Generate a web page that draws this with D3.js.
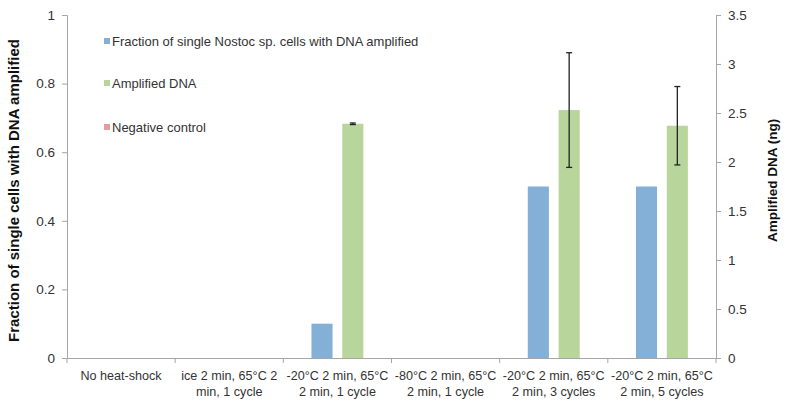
<!DOCTYPE html>
<html><head><meta charset="utf-8">
<script src="https://cdn.jsdelivr.net/npm/d3@7"></script>
<style>body{margin:0;background:#fff}text{font-family:"Liberation Sans",Arial,sans-serif}</style>
</head><body>
<svg id="c" width="795" height="402"></svg>
<script>
const categories = [
  ["No heat-shock"],
  ["ice 2 min, 65°C 2", "min, 1 cycle"],
  ["-20°C 2 min, 65°C", "2 min, 1 cycle"],
  ["-80°C 2 min, 65°C", "2 min, 1 cycle"],
  ["-20°C 2 min, 65°C", "2 min, 3 cycles"],
  ["-20°C 2 min, 65°C", "2 min, 5 cycles"]
];
const fraction = [0, 0, 0.1, 0, 0.5, 0.5];
const amplified = [0, 0, 2.39, 0, 2.53, 2.37];
const amplifiedErr = [0, 0, 0.008, 0, 0.585, 0.4];
const negative = [0, 0, 0, 0, 0, 0];
const leftTicks = [0, 0.2, 0.4, 0.6, 0.8, 1];
const rightTicks = [0, 0.5, 1, 1.5, 2, 2.5, 3, 3.5];
const seriesNames = ["Fraction of single Nostoc sp. cells with DNA amplified", "Amplified DNA", "Negative control"];
const colors = ["#84afd7", "#b8d69b", "#e59c9c"];

const svg = d3.select("#c");
const m = {l: 67, r: 716, t: 15, b: 358};
const x = d3.scaleBand().domain(d3.range(categories.length)).range([m.l, m.r]).paddingInner(0).paddingOuter(0);
const yL = d3.scaleLinear().domain([0, 1]).range([m.b, m.t]);
const yR = d3.scaleLinear().domain([0, 3.5]).range([m.b, m.t]);
const bw = x.bandwidth();
const barW = bw * 0.195;

// bars: fraction (blue)
svg.append("g").selectAll("rect").data(fraction).join("rect")
  .attr("x", (d,i) => x(i) + bw*0.26)
  .attr("width", barW)
  .attr("y", d => yL(d)).attr("height", d => yL(0) - yL(d))
  .attr("fill", colors[0]);
// negative control (red) on primary axis (all zero)
svg.append("g").selectAll("rect").data(negative).join("rect")
  .attr("x", (d,i) => x(i) + bw*0.26 + barW)
  .attr("width", barW)
  .attr("y", d => yL(d)).attr("height", d => yL(0) - yL(d))
  .attr("fill", colors[2]);
// amplified DNA (green) on secondary axis
svg.append("g").selectAll("rect").data(amplified).join("rect")
  .attr("x", (d,i) => x(i) + bw*0.545)
  .attr("width", barW)
  .attr("y", d => yR(d)).attr("height", d => yR(0) - yR(d))
  .attr("fill", colors[1]);
// error bars
const eg = svg.append("g").attr("stroke", "#222").attr("stroke-width", 1.3);
amplified.forEach((v, i) => {
  if (v <= 0) return;
  const cx = x(i) + bw*0.545 + barW/2;
  const e = amplifiedErr[i];
  eg.append("line").attr("x1", cx).attr("x2", cx).attr("y1", yR(v+e)).attr("y2", yR(v-e));
  [v+e, v-e].forEach(t => eg.append("line").attr("x1", cx-3).attr("x2", cx+3).attr("y1", yR(t)).attr("y2", yR(t)));
});

// axes
const axisColor = "#a6a6a6";
const fmt = d => String(d);
const gl = svg.append("g").attr("transform", `translate(${m.l},0)`)
  .call(d3.axisLeft(yL).tickValues(leftTicks).tickFormat(fmt).tickSize(5).tickPadding(7));
const gr = svg.append("g").attr("transform", `translate(${m.r},0)`)
  .call(d3.axisRight(yR).tickValues(rightTicks).tickFormat(fmt).tickSize(5).tickPadding(7));
const gx = svg.append("g").attr("transform", `translate(0,${m.b})`);
gx.append("line").attr("x1", m.l - 5).attr("x2", m.r).attr("y1", 0.5).attr("y2", 0.5).attr("stroke", axisColor);
d3.range(categories.length + 1).forEach(i => {
  const xx = i < categories.length ? x(i) : m.r;
  gx.append("line").attr("x1", xx).attr("x2", xx).attr("y1", 0).attr("y2", 5).attr("stroke", axisColor);
});
categories.forEach((lines, i) => {
  const t = gx.append("text").attr("text-anchor", "middle").attr("font-size", 12.6).attr("fill", "#333")
    .attr("x", x(i) + bw/2).attr("y", 22);
  lines.forEach((ln, j) => t.append("tspan").attr("x", x(i) + bw/2).attr("dy", j ? 15.5 : 0).text(ln));
});
[gl, gr].forEach(g => {
  g.select(".domain").attr("stroke", axisColor);
  g.selectAll(".tick line").attr("stroke", axisColor);
  g.selectAll(".tick text").attr("font-size", 13.5).attr("fill", "#333").attr("font-family", "Liberation Sans, Arial, sans-serif");
});

// axis titles
svg.append("text").attr("transform", `translate(19,${(m.t+m.b)/2 + 4}) rotate(-90)`)
  .attr("text-anchor", "middle").attr("font-size", 15).attr("font-weight", "bold").attr("fill", "#111")
  .text("Fraction of single cells with DNA amplified");
svg.append("text").attr("transform", `translate(777,${(m.t+m.b)/2 - 6}) rotate(-90)`)
  .attr("text-anchor", "middle").attr("font-size", 13.5).attr("font-weight", "bold").attr("fill", "#111")
  .text("Amplified DNA (ng)");

// legend
const legY = [41, 83, 127];
seriesNames.forEach((n, i) => {
  svg.append("rect").attr("x", 104).attr("y", legY[i] - 3).attr("width", 6).attr("height", 6).attr("fill", colors[i]);
  svg.append("text").attr("x", 112).attr("y", legY[i]).attr("dy", "0.35em").attr("font-size", 13).attr("fill", "#333").text(n);
});
</script>
</body></html>
